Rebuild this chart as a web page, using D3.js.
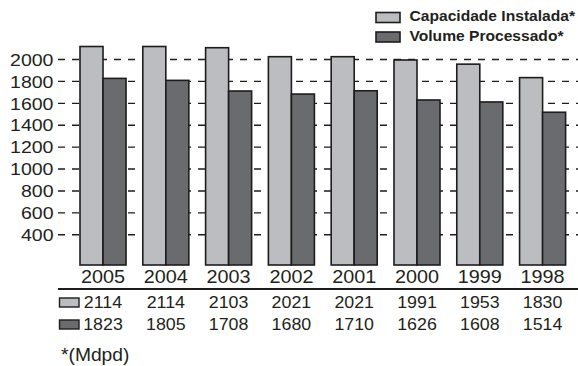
<!DOCTYPE html>
<html>
<head>
<meta charset="utf-8">
<script src="https://cdn.jsdelivr.net/npm/d3@7"></script>
<style>
  body { margin: 0; background: #fff; }
  svg { display: block; }
  text { font-family: "Liberation Sans", Arial, Helvetica, sans-serif; fill: #231f20; }
</style>
</head>
<body>
<svg id="chart" width="578" height="366"></svg>
<script>
// Refining: installed capacity vs processed volume, by year
const years = ["2005", "2004", "2003", "2002", "2001", "2000", "1999", "1998"];
const capacidade = [2114, 2114, 2103, 2021, 2021, 1991, 1953, 1830];
const volume = [1823, 1805, 1708, 1680, 1710, 1626, 1608, 1514];
const seriesNames = ["Capacidade Instalada*", "Volume Processado*"];
const yTicks = [400, 600, 800, 1000, 1200, 1400, 1600, 1800, 2000];
const unitNote = "*(Mdpd)";

const W = 578, H = 366;
const colors = ["#bcbdc0", "#6a6b6f"];
const ink = "#1e1c1d";

const svg = d3.select("#chart");

const x = d3.scaleBand().domain(years).range([80, 565.6]).paddingInner(0.267).paddingOuter(0);
const xs = d3.scaleBand().domain([0, 1]).range([0, x.bandwidth()]);
const y = d3.scaleLinear().domain([120, 2000]).range([265, 59]);

// text helper with slight horizontal stretch
function label(g, tx, ty, str, size, sx, anchor, weight) {
  return g.append("text")
    .attr("transform", `translate(${tx},${ty}) scale(${sx},1)`)
    .attr("text-anchor", anchor)
    .style("font-size", size + "px")
    .style("font-weight", weight || "normal")
    .text(str);
}

// Y axis with dashed gridlines across the plot
const axisX = 58;
const yAxis = d3.axisLeft(y).tickValues(yTicks).tickFormat(d3.format("d"))
  .tickSize(-(W - axisX)).tickPadding(4.5);
const ag = svg.append("g").attr("transform", `translate(${axisX},0)`).call(yAxis);
ag.select(".domain").remove();
ag.selectAll(".tick line")
  .attr("stroke", ink).attr("stroke-width", 1.4).attr("stroke-dasharray", "7,7");
ag.selectAll(".tick text")
  .attr("x", null).attr("dy", null)
  .attr("transform", "translate(-4.5,6.2) scale(1.15,1)")
  .attr("fill", "#231f20")
  .style("font-size", "17px")
  .style("font-family", "'Liberation Sans', Arial, sans-serif");

// Bars
const rows = years.map((yr, i) => ({ year: yr, vals: [capacidade[i], volume[i]] }));
const groups = svg.append("g").selectAll("g").data(rows).join("g")
  .attr("transform", d => `translate(${x(d.year)},0)`);
groups.selectAll("rect").data(d => d.vals.map((v, k) => ({ v, k }))).join("rect")
  .attr("x", d => xs(d.k))
  .attr("y", d => y(d.v))
  .attr("width", xs.bandwidth())
  .attr("height", d => y.range()[0] - y(d.v))
  .attr("fill", d => colors[d.k])
  .attr("stroke", ink)
  .attr("stroke-width", 1.6);

// Year labels
const yl = svg.append("g");
years.forEach(yr => label(yl, x(yr) + x.bandwidth() / 2, 283, yr, 18, 1.1, "middle"));

// Rule under the years
svg.append("line").attr("x1", 58).attr("x2", W).attr("y1", 289).attr("y2", 289)
  .attr("stroke", ink).attr("stroke-width", 2);

// Data table
const tg = svg.append("g");
const tableRows = [capacidade, volume];
const rowBase = [308, 330];
tableRows.forEach((vals, r) => {
  tg.append("rect").attr("x", 59.5).attr("y", rowBase[r] - 10).attr("width", 19.5).attr("height", 9)
    .attr("fill", colors[r]).attr("stroke", ink).attr("stroke-width", 1.4);
  vals.forEach((v, i) => label(tg, x(years[i]) + x.bandwidth() / 2, rowBase[r], String(v), 16.5, 1.08, "middle"));
});

// Unit note
label(svg.append("g"), 61, 361, unitNote, 17.5, 1.1, "start");

// Legend
const lg = svg.append("g");
const legBase = [21, 40.5];
seriesNames.forEach((name, k) => {
  lg.append("rect").attr("x", 376).attr("y", legBase[k] - 8.5).attr("width", 24).attr("height", 10)
    .attr("fill", colors[k]).attr("stroke", ink).attr("stroke-width", 1.6);
  label(lg, 409.5, legBase[k], name, 15, 1.04, "start", "bold");
});
</script>
</body>
</html>
